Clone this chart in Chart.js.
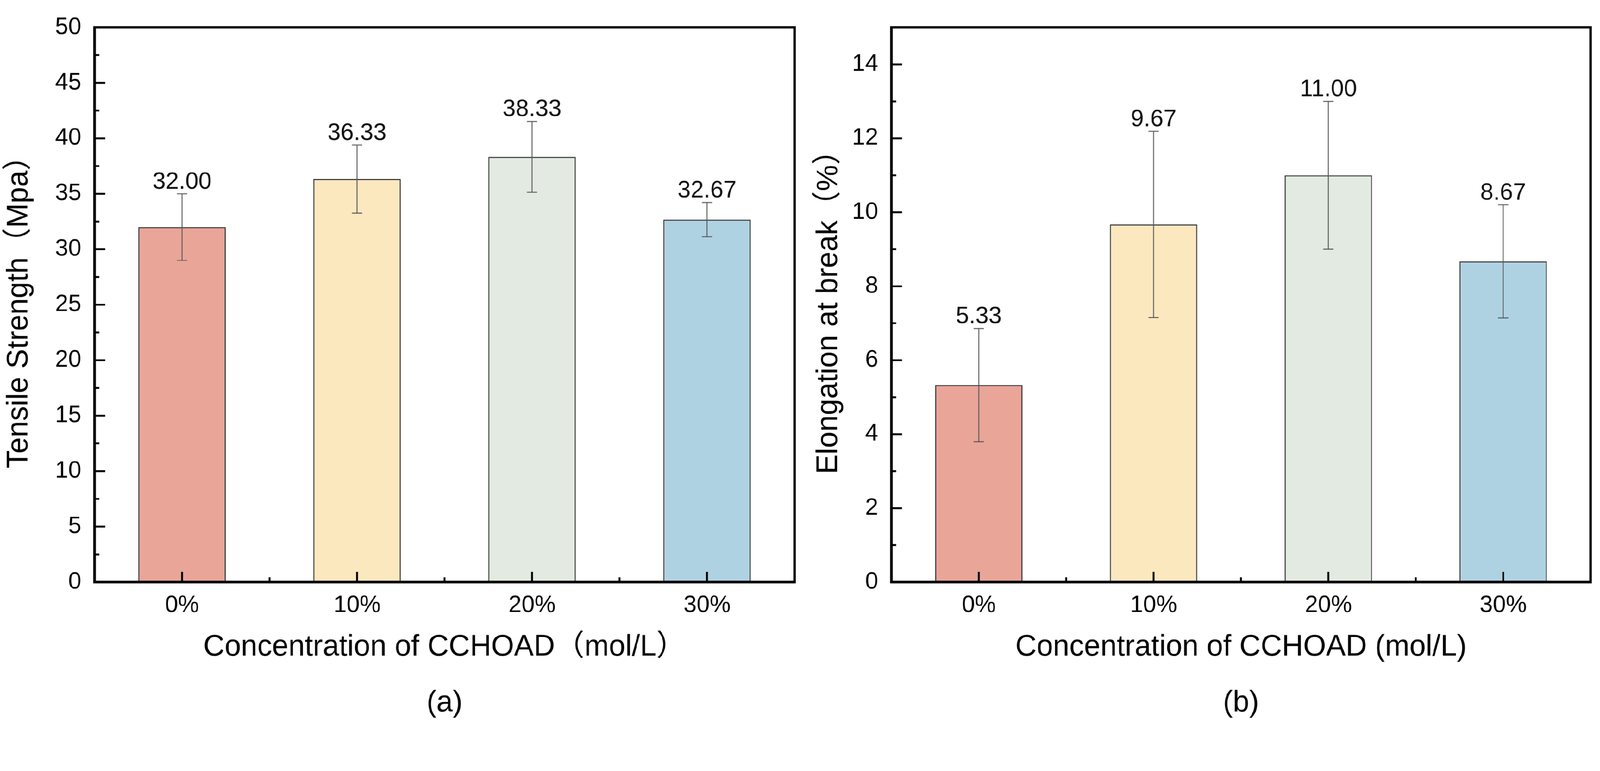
<!DOCTYPE html>
<html><head><meta charset="utf-8">
<script src="https://cdn.jsdelivr.net/npm/chart.js@4.4.0/dist/chart.umd.min.js"></script>
<style>
html,body{margin:0;padding:0;background:#fff;overflow:hidden}
#stage{position:absolute;left:0;top:0;width:4351px;height:1973px;transform-origin:0 0;background:#fff}
.wrap{position:absolute;top:0;height:1973px}
#w1{left:0;width:2190px}
#w2{left:2190px;width:2161px}
</style></head><body>
<div id="stage">
<div class="wrap" id="w1"><canvas id="c1"></canvas></div>
<div class="wrap" id="w2"><canvas id="c2"></canvas></div>
</div>
<script>
// ---- data ----
const categories = ['0%', '10%', '20%', '30%'];
const tensileStrength = [32.00, 36.33, 38.33, 32.67];
const tensileError = [3.00, 3.07, 3.20, 1.55];
const elongation = [5.33, 9.67, 11.00, 8.67];
const elongationError = [1.53, 2.52, 2.00, 1.53];
const tensileAxis = [0, 50, 5];      // min, max, step
const elongationAxis = [0, 15, 2];   // min, max, step
const barColors = ['#E9A598', '#FCE8BF', '#E3EAE1', '#AFD2E3'];

const FONT = "'Liberation Sans', Arial, 'Noto Sans CJK SC', sans-serif";

// fit the 4351x1973 design into the actual window
const S = Math.min(window.innerWidth / 4351, window.innerHeight / 1973) || 1;
document.getElementById('stage').style.transform = 'scale(' + S + ')';
const DPR = (window.devicePixelRatio || 1) * S;

const decor = {
  id: 'decor',
  afterDatasetsDraw(chart, args, opts) {
    const ctx = chart.ctx, ca = chart.chartArea;
    const xs = chart.scales.x, ys = chart.scales.y;
    const meta = chart.getDatasetMeta(0);
    const ds = chart.data.datasets[0];
    ctx.save();
    // error bars + value labels
    meta.data.forEach((bar, i) => {
      const v = ds.data[i], e = opts.errors[i];
      const x = bar.x;
      const yt = ys.getPixelForValue(v + e), yb = ys.getPixelForValue(v - e);
      ctx.strokeStyle = '#5a5a5a'; ctx.lineWidth = 2.5;
      ctx.beginPath();
      ctx.moveTo(x, yt); ctx.lineTo(x, yb);
      ctx.moveTo(x - 14, yt); ctx.lineTo(x + 14, yt);
      ctx.moveTo(x - 14, yb); ctx.lineTo(x + 14, yb);
      ctx.stroke();
      ctx.fillStyle = '#111';
      ctx.font = '64px ' + FONT;
      ctx.textAlign = 'center';
      ctx.textBaseline = 'alphabetic';
      ctx.fillText(v.toFixed(2), x, yt - 14);
    });
    // inward ticks
    ctx.strokeStyle = '#000';
    ctx.lineWidth = 5;
    ctx.beginPath();
    const yt = ys.ticks.map(t => t.value);
    const step = yt.length > 1 ? yt[1] - yt[0] : 1;
    yt.forEach(v => {
      const p = ys.getPixelForValue(v);
      ctx.moveTo(ca.left, p); ctx.lineTo(ca.left + 29, p);
      const m = v + step / 2;
      if (m < ys.max - 1e-9) {
        const q = ys.getPixelForValue(m);
        ctx.moveTo(ca.left, q); ctx.lineTo(ca.left + 13, q);
      }
    });
    const n = chart.data.labels.length;
    for (let i = 0; i < n; i++) {
      const p = xs.getPixelForValue(i);
      ctx.moveTo(p, ca.bottom); ctx.lineTo(p, ca.bottom - 28);
      if (i < n - 1) {
        const q = (p + xs.getPixelForValue(i + 1)) / 2;
        ctx.moveTo(q, ca.bottom); ctx.lineTo(q, ca.bottom - 13);
      }
    }
    ctx.stroke();
    // frame
    ctx.lineWidth = 7;
    ctx.strokeRect(ca.left, ca.top, ca.right - ca.left, ca.bottom - ca.top);
    // panel label
    ctx.fillStyle = '#000';
    ctx.font = '80px ' + FONT;
    ctx.textAlign = 'center';
    ctx.textBaseline = 'alphabetic';
    ctx.fillText(opts.panel, (ca.left + ca.right) / 2, 1933);
    ctx.restore();
  }
};

function makeChart(id, values, errors, axis, yTitle, xTitle, panel, yAxisWidth, padRight, yTitlePad) {
  return new Chart(document.getElementById(id), {
    type: 'bar',
    data: {
      labels: categories,
      datasets: [{
        data: values,
        backgroundColor: barColors,
        borderColor: '#383838',
        borderWidth: 3,
        barPercentage: 0.5,
        categoryPercentage: 1.0
      }]
    },
    plugins: [decor],
    options: {
      responsive: true,
      maintainAspectRatio: false,
      animation: false,
      devicePixelRatio: DPR,
      layout: { padding: { top: 47, right: padRight, bottom: 0, left: 0 }, autoPadding: false },
      plugins: {
        legend: { display: false },
        tooltip: { enabled: false },
        decor: { errors: errors, panel: panel }
      },
      scales: {
        x: {
          type: 'category',
          offset: true,
          grid: { display: false, drawTicks: false },
          border: { display: false },
          ticks: { color: '#000', font: { family: FONT, size: 64 }, padding: 25, maxRotation: 0 },
          title: { display: true, text: xTitle, color: '#000', font: { family: FONT, size: 80 }, padding: { top: 0, bottom: 166 } },
          afterFit(s) { s.height = 391; }
        },
        y: {
          min: axis[0], max: axis[1],
          grid: { display: false, drawTicks: false },
          border: { display: false },
          ticks: { stepSize: axis[2], includeBounds: false, color: '#000', font: { family: FONT, size: 64 }, padding: 36 },
          title: { display: true, text: yTitle, color: '#000', font: { family: FONT, size: 80 }, padding: { top: yTitlePad, bottom: 0 } },
          afterFit(s) { s.width = yAxisWidth; }
        }
      }
    }
  });
}

makeChart('c1', tensileStrength, tensileError, tensileAxis,
  'Tensile Strength（Mpa）', 'Concentration of CCHOAD（mol/L）', '(a)', 257, 30, 4);
makeChart('c2', elongation, elongationError, elongationAxis,
  'Elongation at break（%）', 'Concentration of CCHOAD (mol/L)', '(b)', 234, 26, 16);
</script>
</body></html>
